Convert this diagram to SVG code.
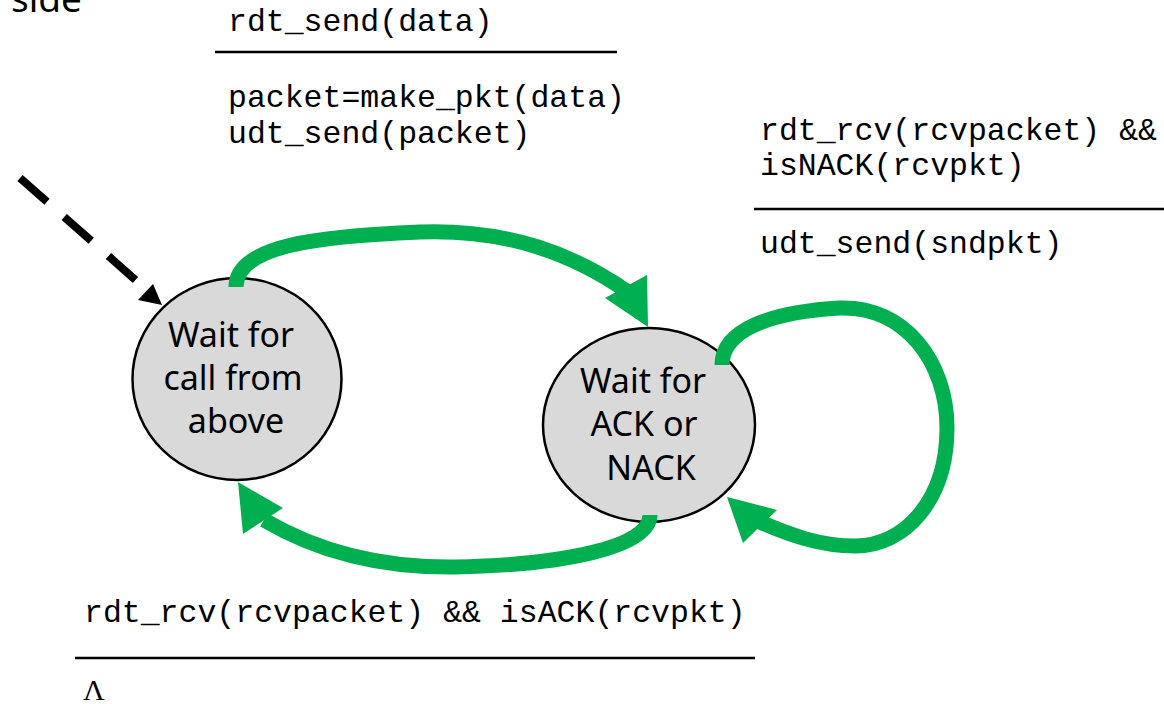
<svg xmlns="http://www.w3.org/2000/svg" width="1164" height="704" viewBox="0 0 1164 704">
<defs>
<style>
.mono{font-family:"Liberation Mono","Courier New",monospace;font-size:31.5px;fill:#000}
.sans{font-family:"Noto Sans",Lato,sans-serif;font-size:34px;fill:#000;text-anchor:middle}
.state{fill:#d9d9d9;stroke:#000;stroke-width:2.5}
.rule{stroke:#000;stroke-width:2.5}
.green{fill:none;stroke:#00b050;stroke-width:15}
.ghead{fill:#00b050}
</style>
</defs>
<rect width="1164" height="704" fill="#fff"/>
<text x="11" y="12" style="font-family:'Noto Sans',Lato,sans-serif;font-size:37px">side</text>

<g id="state-wait-call">
<ellipse class="state" cx="237" cy="379" rx="104.5" ry="101"/>
<text class="sans" x="231" y="347">Wait for</text>
<text class="sans" x="233" y="390">call from</text>
<text class="sans" x="236" y="433">above</text>
</g>

<g id="state-wait-ack">
<ellipse class="state" cx="649" cy="425" rx="106" ry="97"/>
<text class="sans" x="643" y="393">Wait for</text>
<text class="sans" x="644" y="436">ACK or</text>
<text class="sans" x="651" y="480">NACK</text>
</g>

<g id="connectors">
<line x1="20" y1="178" x2="148" y2="291" stroke="#000" stroke-width="8" stroke-dasharray="36 23"/>
<polygon points="162,305 138,300 153,284" fill="#000"/>

<path class="green" d="M236,287 C236,245 320,236 420,232 C510,229 575,255 628,292"/>
<polygon class="ghead" points="605,298 647,275 648,327"/>

<path class="green" d="M722,365 C722,330 770,312 840,308 C905,306 947,362 947,428 C947,500 905,546 855,546 C820,546 790,535 760,522"/>
<polygon class="ghead" points="727,497 743,543 777,510"/>

<path class="green" d="M650,515 C650,548 560,565 455,567 C380,568 315,550 264,520"/>
<polygon class="ghead" points="238,482 243,534 283,508"/>
</g>

<g id="label-send">
<text class="mono" x="228" y="31">rdt_send(data)</text>
<line class="rule" x1="215" y1="52" x2="617" y2="52"/>
<text class="mono" x="228" y="107">packet=make_pkt(data)</text>
<text class="mono" x="228" y="143">udt_send(packet)</text>
</g>

<g id="label-nack">
<text class="mono" x="760" y="140">rdt_rcv(rcvpacket) &amp;&amp;</text>
<text class="mono" x="760" y="175">isNACK(rcvpkt)</text>
<line class="rule" x1="754" y1="209" x2="1164" y2="209"/>
<text class="mono" x="760" y="253">udt_send(sndpkt)</text>
</g>

<g id="label-ack">
<text class="mono" x="84" y="622">rdt_rcv(rcvpacket) &amp;&amp; isACK(rcvpkt)</text>
<line class="rule" x1="75" y1="658" x2="755" y2="658"/>
<text x="83" y="700" style="font-family:'Liberation Serif','Times New Roman',serif;font-size:30px">Λ</text>
</g>
</svg>
